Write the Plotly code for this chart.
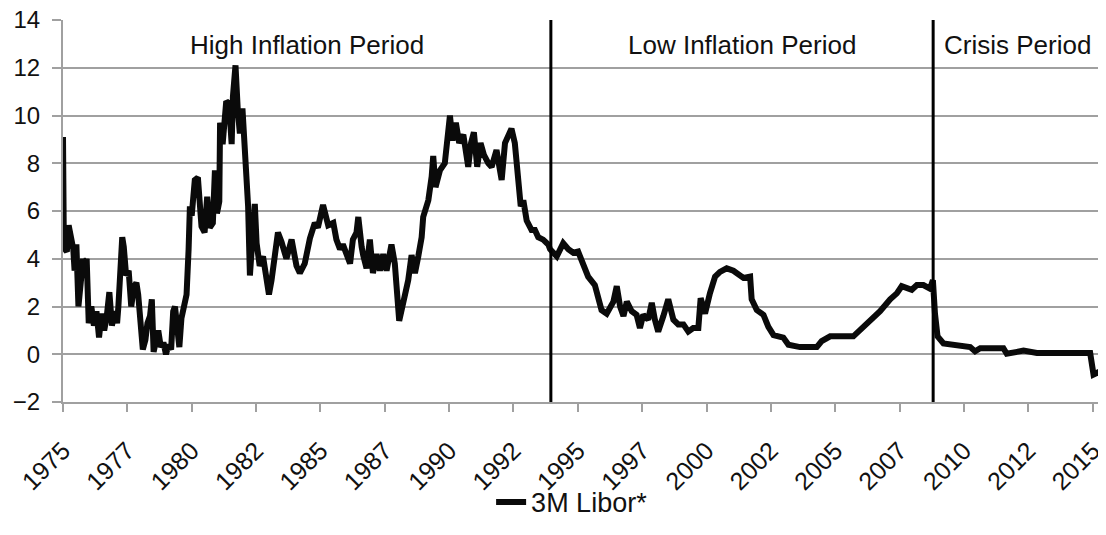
import pandas as pd
import plotly.graph_objects as go

# ---- data ----
year_frac = [
    1975.00, 1975.01, 1975.03, 1975.08, 1975.15, 1975.22, 1975.30, 1975.40, 1975.45, 1975.52,
    1975.60, 1975.70, 1975.78, 1975.85, 1975.92, 1976.00, 1976.10, 1976.20, 1976.30, 1976.40,
    1976.50, 1976.60, 1976.70, 1976.80, 1976.90, 1977.00, 1977.10, 1977.15, 1977.22, 1977.30,
    1977.36, 1977.45, 1977.55, 1977.65, 1977.75, 1977.85, 1977.92, 1978.00, 1978.10, 1978.20,
    1978.28, 1978.38, 1978.45, 1978.52, 1978.60, 1978.70, 1978.80, 1978.90, 1979.00, 1979.10,
    1979.20, 1979.28, 1979.35, 1979.45, 1979.52, 1979.60, 1979.70, 1979.80, 1979.88, 1979.93,
    1980.00, 1980.05, 1980.12, 1980.24, 1980.30, 1980.38, 1980.50, 1980.60, 1980.70, 1980.82,
    1980.90, 1980.98, 1981.07, 1981.10, 1981.20, 1981.28, 1981.34, 1981.45, 1981.55, 1981.60,
    1981.70, 1981.79, 1981.87, 1981.97, 1982.03, 1982.10, 1982.19, 1982.26, 1982.32, 1982.45,
    1982.52, 1982.64, 1982.77, 1982.90, 1983.00, 1983.10, 1983.23, 1983.35, 1983.49, 1983.68,
    1983.88, 1984.07, 1984.20, 1984.39, 1984.59, 1984.78, 1984.90, 1985.10, 1985.30, 1985.50,
    1985.62, 1985.76, 1985.87, 1986.15, 1986.26, 1986.40, 1986.47, 1986.53, 1986.60, 1986.66,
    1986.79, 1986.92, 1987.04, 1987.18, 1987.31, 1987.44, 1987.57, 1987.76, 1987.89, 1988.06,
    1988.21, 1988.41, 1988.54, 1988.67, 1988.80, 1988.93, 1988.99, 1989.19, 1989.32, 1989.38,
    1989.47, 1989.64, 1989.83, 1989.92, 1990.03, 1990.13, 1990.26, 1990.39, 1990.55, 1990.74,
    1990.85, 1990.96, 1991.09, 1991.22, 1991.35, 1991.52, 1991.65, 1991.84, 1992.04, 1992.17,
    1992.29, 1992.42, 1992.55, 1992.68, 1992.78, 1992.88, 1993.01, 1993.20, 1993.33, 1993.46,
    1993.65, 1993.85, 1993.92, 1994.18, 1994.43, 1994.63, 1994.82, 1995.01, 1995.21, 1995.40,
    1995.66, 1995.79, 1995.92, 1996.12, 1996.38, 1996.51, 1996.64, 1996.77, 1996.90, 1997.09,
    1997.28, 1997.41, 1997.54, 1997.73, 1997.87, 1997.99, 1998.12, 1998.32, 1998.51, 1998.71,
    1998.90, 1999.10, 1999.29, 1999.48, 1999.68, 1999.77, 1999.94, 2000.13, 2000.33, 2000.52,
    2000.78, 2001.04, 2001.23, 2001.43, 2001.69, 2001.75, 2001.95, 2002.21, 2002.40, 2002.60,
    2002.98, 2003.18, 2003.63, 2004.28, 2004.47, 2004.80, 2005.70, 2005.96, 2006.35, 2006.74,
    2007.13, 2007.39, 2007.58, 2007.97, 2008.17, 2008.42, 2008.68, 2008.79, 2008.87, 2008.97,
    2009.20, 2009.59, 2010.24, 2010.43, 2010.63, 2011.53, 2011.66, 2012.31, 2012.83, 2014.90,
    2015.03, 2015.22, 2015.36,
]
libor_3m = [
    9.1, 6.5, 5.0, 4.4, 4.3, 5.4, 4.8, 4.4, 3.5, 4.6,
    2.0, 3.4, 4.0, 3.8, 4.0, 1.3, 2.0, 1.2, 1.8, 0.7,
    1.7, 1.0, 1.6, 2.6, 1.2, 1.8, 1.3, 2.0, 3.0, 4.9,
    4.5, 3.3, 3.5, 2.0, 2.8, 3.0, 2.5, 1.5, 0.2, 0.6,
    1.3, 1.6, 2.3, 0.1, 0.5, 1.0, 0.3, 0.5, 0.0, 0.4,
    0.2, 1.8, 2.0, 0.5, 0.3, 1.5, 2.0, 2.5, 4.4, 6.2,
    5.8, 6.3, 7.3, 7.4, 6.5, 5.35, 5.1, 6.6, 5.3, 5.5,
    7.7, 5.9, 6.4, 9.7, 8.8, 9.8, 10.6, 10.5, 8.8, 10.8,
    12.1, 10.2, 9.25, 10.3, 9.3, 8.3, 6.2, 3.3, 4.65, 6.3,
    4.65, 3.7, 4.1, 3.1, 2.5, 3.1, 4.0, 5.1, 4.7, 4.0,
    4.8, 3.7, 3.4, 3.8, 4.85, 5.5, 5.3, 6.25, 5.4, 5.5,
    4.8, 4.4, 4.6, 3.8, 4.8, 5.1, 5.75, 5.0, 4.5, 4.15,
    3.6, 4.8, 3.4, 4.2, 3.5, 4.2, 3.5, 4.6, 3.8, 1.4,
    2.15, 3.1, 4.15, 3.4, 4.1, 4.9, 5.75, 6.45, 7.45, 8.3,
    7.0, 7.7, 8.0, 8.95, 10.0, 8.95, 9.7, 8.85, 9.2, 7.85,
    8.85, 9.3, 7.85, 8.85, 8.35, 8.0, 7.85, 8.55, 7.3, 8.85,
    9.1, 9.45, 8.85, 7.3, 6.2, 6.45, 5.6, 5.2, 5.2, 4.9,
    4.8, 4.6, 4.4, 4.1, 4.65, 4.4, 4.25, 4.3, 3.7, 3.25,
    2.9, 2.3, 1.85, 1.7, 2.2, 2.85, 2.0, 1.6, 2.2, 1.8,
    1.65, 1.1, 1.65, 1.45, 2.15, 1.45, 0.95, 1.6, 2.3, 1.45,
    1.25, 1.25, 0.95, 1.1, 1.1, 2.35, 1.7, 2.55, 3.25, 3.45,
    3.6, 3.5, 3.35, 3.2, 3.25, 2.3, 1.85, 1.65, 1.15, 0.8,
    0.7, 0.4, 0.3, 0.3, 0.55, 0.75, 0.75, 1.0, 1.45, 1.8,
    2.3, 2.55, 2.85, 2.7, 2.9, 2.9, 2.75, 3.1, 1.7, 0.75,
    0.45, 0.4, 0.3, 0.12, 0.25, 0.25, 0.02, 0.15, 0.05, 0.05,
    -0.85, -0.75, -0.8,
]
series_name = "3M Libor*"

period_breaks = [1993.95, 2008.80]
period_labels = ["High Inflation Period", "Low Inflation Period", "Crisis Period"]
label_level = 12.95

y_min, y_max, y_step = -2, 14, 2
x_tick_start = "1975-01-01"
x_tick_step = "M30"


def to_date(y):
    yr = int(y)
    start = pd.Timestamp(yr, 1, 1)
    end = pd.Timestamp(yr + 1, 1, 1)
    return start + (end - start) * (y - yr)


dates = [to_date(v) for v in year_frac]
break_dates = [to_date(v) for v in period_breaks]

FONT = "Liberation Sans, Arial, sans-serif"
GRID = "#a0a0a0"
TXT = "#111111"

fig = go.Figure()
fig.add_trace(go.Scatter(
    x=dates, y=libor_3m, mode="lines", name=series_name,
    line=dict(color="#0a0a0a", width=6),
))

for d in break_dates:
    fig.add_shape(type="line", xref="x", yref="paper", x0=d, x1=d, y0=0, y1=1,
                  line=dict(color="#000000", width=3), layer="above")

edges = [year_frac[0]] + period_breaks + [year_frac[-1]]
for i, lab in enumerate(period_labels):
    mid = to_date((edges[i] + edges[i + 1]) / 2)
    fig.add_annotation(x=mid, y=label_level, text=lab, showarrow=False,
                       xanchor="center", yanchor="middle",
                       font=dict(family=FONT, size=26, color=TXT))

# the page body adds an 8px margin, so the figure is sized 8px smaller
fig.update_layout(
    width=1098, height=527,
    margin=dict(l=55, r=4, t=12, b=133, autoexpand=False),
    paper_bgcolor="white", plot_bgcolor="white",
    font=dict(family=FONT, size=25, color=TXT),
    showlegend=True,
    legend=dict(orientation="h", x=0.49, xanchor="center",
                yref="container", y=0.062, yanchor="middle",
                bgcolor="rgba(0,0,0,0)",
                font=dict(family=FONT, size=27, color=TXT)),
)
fig.update_xaxes(
    type="date", range=[dates[0], dates[-1]], automargin=False,
    tick0=x_tick_start, dtick=x_tick_step, tickformat="%Y", tickangle=-45,
    showgrid=False, showline=True, linecolor=GRID, linewidth=2,
    ticks="outside", ticklen=8, tickwidth=2, tickcolor=GRID,
    tickfont=dict(family=FONT, size=25, color=TXT),
    ticklabelstandoff=14, ticklabeloverflow="allow",
)
fig.update_yaxes(
    range=[y_min, y_max], dtick=y_step, tick0=0, automargin=False,
    showgrid=True, gridcolor=GRID, gridwidth=2, zeroline=False,
    showline=True, linecolor=GRID, linewidth=2,
    ticks="outside", ticklen=9, tickwidth=2, tickcolor=GRID,
    tickfont=dict(family=FONT, size=24, color=TXT),
    ticklabelstandoff=7, ticklabeloverflow="allow",
)

fig.write_html("out.html")
